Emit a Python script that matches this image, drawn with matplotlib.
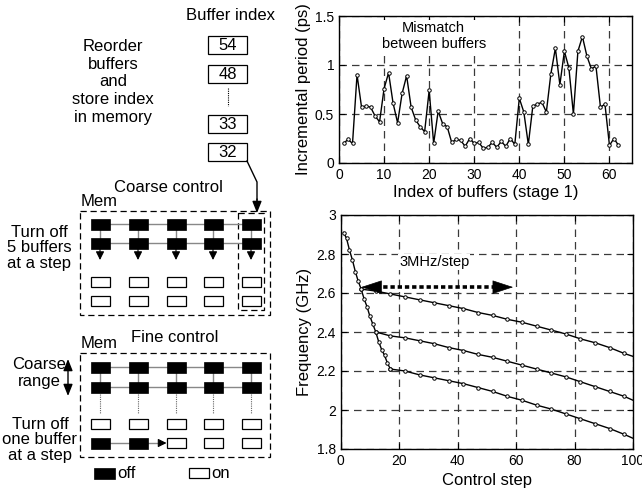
#buffer reorder / mismatch / frequency tuning figure
import numpy as np
import matplotlib
matplotlib.use('Agg')
from matplotlib import pyplot as plt
from matplotlib.patches import Rectangle

plt.rcParams['font.family'] = ['Liberation Sans', 'DejaVu Sans']

#data
buffer_index = list(range(1, 63))
incr_period = [0.20, 0.24, 0.20, 0.90, 0.57, 0.58, 0.57, 0.48, 0.42, 0.76,
               0.92, 0.61, 0.41, 0.71, 0.89, 0.57, 0.44, 0.37, 0.32, 0.74,
               0.20, 0.53, 0.40, 0.37, 0.21, 0.24, 0.23, 0.17, 0.25, 0.20,
               0.21, 0.15, 0.16, 0.21, 0.16, 0.22, 0.17, 0.25, 0.19, 0.66,
               0.52, 0.19, 0.58, 0.60, 0.62, 0.52, 0.91, 1.17, 0.80, 1.14,
               0.97, 0.50, 1.14, 1.29, 1.09, 0.96, 0.99, 0.57, 0.60, 0.18,
               0.25, 0.18]

steep_steps = list(range(1, 18))
steep_freq = [2.91, 2.88, 2.82, 2.77, 2.71, 2.66, 2.62, 2.57, 2.53, 2.48,
              2.44, 2.40, 2.35, 2.31, 2.28, 2.24, 2.21]

upper_steps = list(range(7, 98, 5)) + [100]
upper_freq = [2.62, 2.61, 2.595, 2.58, 2.565, 2.55, 2.535, 2.52, 2.50, 2.485,
              2.465, 2.45, 2.43, 2.41, 2.39, 2.365, 2.345, 2.32, 2.29, 2.275]
middle_steps = list(range(12, 98, 5)) + [100]
middle_freq = [2.40, 2.38, 2.37, 2.355, 2.34, 2.32, 2.305, 2.285, 2.27, 2.25,
               2.23, 2.21, 2.19, 2.17, 2.145, 2.12, 2.095, 2.07, 2.05]
lower_steps = list(range(17, 98, 5)) + [100]
lower_freq = [2.21, 2.20, 2.18, 2.165, 2.15, 2.135, 2.115, 2.095, 2.07, 2.05,
              2.025, 2.005, 1.98, 1.955, 1.93, 1.905, 1.875, 1.855]

buffer_order = ['54', '48', '33', '32']
W, H = 642, 492

fig = plt.figure(figsize=(W / 100, H / 100), dpi=100)

def px_axes(left, top, right, bottom):
    return fig.add_axes([left / W, 1 - bottom / H, (right - left) / W, (bottom - top) / H])

grid_kw = dict(color='#3a3a3a', linestyle=(0, (6, 4)), linewidth=0.9)
line_kw = dict(color='black', linewidth=1.0, marker='o', markersize=2.5,
               markerfacecolor='white', markeredgecolor='black', markeredgewidth=0.7)

def style_axes(ax):
    ax.tick_params(direction='in', top=True, right=True, labelsize=10, length=4)
    ax.grid(True, **grid_kw)
    for s in ax.spines.values():
        s.set_linewidth(1.0)

#top plot: mismatch between buffers
ax1 = px_axes(339, 16, 632, 163)
ax1.plot(buffer_index, incr_period, **line_kw)
ax1.set_xlim(0, 65)
ax1.set_ylim(0, 1.5)
ax1.set_xticks([0, 10, 20, 30, 40, 50, 60])
ax1.set_yticks([0, 0.5, 1, 1.5])
ax1.set_yticklabels(['0', '0.5', '1', '1.5'])
style_axes(ax1)
ax1.set_xlabel('Index of buffers (stage 1)', fontsize=12, labelpad=2)
ax1.set_ylabel('Incremental period (ps)', fontsize=12, labelpad=3)
ax1.text(21, 1.3, 'Mismatch\nbetween buffers', fontsize=10.5, ha='center', va='center',
         linespacing=1.2, bbox=dict(facecolor='white', edgecolor='none', pad=0.5))

#bottom plot: frequency vs control step
ax2 = px_axes(340.7, 215, 633, 449)
ax2.plot(steep_steps, steep_freq, **line_kw)
ax2.plot(upper_steps, upper_freq, markevery=slice(0, -1), **line_kw)
ax2.plot(middle_steps, middle_freq, markevery=slice(0, -1), **line_kw)
ax2.plot(lower_steps, lower_freq, markevery=slice(0, -1), **line_kw)
ax2.set_xlim(0, 100)
ax2.set_ylim(1.8, 3)
ax2.set_xticks([0, 20, 40, 60, 80, 100])
ax2.set_yticks([1.8, 2.0, 2.2, 2.4, 2.6, 2.8, 3.0])
ax2.set_yticklabels(['1.8', '2', '2.2', '2.4', '2.6', '2.8', '3'])
style_axes(ax2)
ax2.set_xlabel('Control step', fontsize=12, labelpad=4)
ax2.set_ylabel('Frequency (GHz)', fontsize=12, labelpad=3)
ax2.text(32, 2.76, '3MHz/step', fontsize=10.5, ha='center', va='center',
         bbox=dict(facecolor='white', edgecolor='none', pad=0.5))
ax2.plot([12, 54], [2.63, 2.63], color='black', linestyle=(0, (1.2, 0.8)), linewidth=2.6)
head = dict(arrowstyle='-|>,head_length=0.55,head_width=0.18', color='black', lw=0.5,
            mutation_scale=25, shrinkA=0, shrinkB=0)
ax2.annotate('', xy=(7, 2.63), xytext=(12.5, 2.63), arrowprops=head)
ax2.annotate('', xy=(59, 2.63), xytext=(53.5, 2.63), arrowprops=head)

#left: diagram drawn in pixel coordinates
axd = px_axes(0, 0, 290, 492)
axd.set_xlim(0, 290)
axd.set_ylim(492, 0)
axd.axis('off')

fs = 12
axd.text(230, 15, 'Buffer index', fontsize=fs, ha='center', va='center')
axd.text(113, 82, 'Reorder\nbuffers\nand\nstore index\nin memory', fontsize=fs,
         ha='center', va='center', linespacing=1.22)
box_tops = [36, 65, 115, 143]
for lab, top in zip(buffer_order, box_tops):
    axd.add_patch(Rectangle((208, top), 39, 18, facecolor='white', edgecolor='black', lw=0.9))
    axd.text(227.5, top + 9.5, lab, fontsize=fs, ha='center', va='center')
axd.plot([228, 228], [88, 106], color='black', lw=0.8, linestyle=(0, (1, 1)))
axd.plot([247, 257, 257], [161, 182, 200], color='black', lw=1.0)
axd.annotate('', xy=(257, 213), xytext=(257, 199),
             arrowprops=dict(arrowstyle='-|>,head_length=0.5,head_width=0.2', color='black',
                             lw=1.0, mutation_scale=14, shrinkA=0, shrinkB=0))

col_x = [100, 138, 176, 213, 251]
bw, bh = 19, 11
dash = (0, (5, 3))

def filled_row(yc, cols=col_x, link=True):
    if link:
        axd.plot([cols[0], cols[-1]], [yc, yc], color='#888888', lw=1.0, zorder=1)
    for cx in cols:
        axd.add_patch(Rectangle((cx - bw / 2, yc - bh / 2), bw, bh, facecolor='black',
                                edgecolor='black', lw=0.5, zorder=2))

def open_row(yc, cols=col_x):
    for cx in cols:
        axd.add_patch(Rectangle((cx - bw / 2, yc - 5), bw, 10, facecolor='white',
                                edgecolor='black', lw=0.9, zorder=2))

#coarse control
axd.text(168, 187, 'Coarse control', fontsize=fs, ha='center', va='center')
axd.text(81, 201, 'Mem', fontsize=fs, ha='left', va='center')
axd.add_patch(Rectangle((80, 211), 190, 104, fill=False, edgecolor='black', lw=0.9, linestyle=dash))
axd.add_patch(Rectangle((238, 213), 26, 97, fill=False, edgecolor='black', lw=0.9, linestyle=dash))
for cx in col_x:
    axd.plot([cx, cx], [224, 243], color='#888888', lw=1.0, zorder=1)
filled_row(224)
filled_row(243)
for cx in col_x:
    axd.annotate('', xy=(cx, 260), xytext=(cx, 249),
                 arrowprops=dict(arrowstyle='-|>,head_length=0.5,head_width=0.25', color='black',
                                 lw=0.8, mutation_scale=10, shrinkA=0, shrinkB=0))
open_row(282)
open_row(301)
axd.text(39, 248, 'Turn off\n5 buffers\nat a step', fontsize=fs, ha='center', va='center',
         linespacing=1.05)

#fine control
axd.text(175, 337, 'Fine control', fontsize=fs, ha='center', va='center')
axd.text(81, 344, 'Mem', fontsize=fs, ha='left', va='center')
axd.add_patch(Rectangle((80, 353), 190, 104, fill=False, edgecolor='black', lw=0.9, linestyle=dash))
for cx in col_x:
    axd.plot([cx, cx], [367, 387], color='#888888', lw=1.0, zorder=1)
    axd.plot([cx, cx], [394, 413], color='#666666', lw=0.8, linestyle=(0, (1, 1)))
filled_row(367)
filled_row(387)
open_row(424)
axd.plot([col_x[0], col_x[2] - bw / 2 - 4], [443, 443], color='#888888', lw=1.0, zorder=1)
axd.annotate('', xy=(col_x[2] - bw / 2, 443), xytext=(col_x[2] - bw / 2 - 6, 443),
             arrowprops=dict(arrowstyle='-|>,head_length=0.5,head_width=0.25', color='black',
                             lw=0.8, mutation_scale=10, shrinkA=0, shrinkB=0))
filled_row(443, cols=col_x[:2], link=False)
open_row(443, cols=col_x[2:])
axd.text(39, 373, 'Coarse\nrange', fontsize=fs, ha='center', va='center', linespacing=1.1)
axd.annotate('', xy=(68, 359), xytext=(68, 396),
             arrowprops=dict(arrowstyle='<|-|>,head_length=0.5,head_width=0.2', color='black',
                             lw=1.0, mutation_scale=14, shrinkA=0, shrinkB=0))
axd.text(40, 440, 'Turn off\none buffer\nat a step', fontsize=fs, ha='center', va='center',
         linespacing=1.05)

#legend of the diagram
axd.add_patch(Rectangle((94, 468), 21, 11, facecolor='black', edgecolor='black', lw=0.5))
axd.text(117, 473, 'off', fontsize=fs, ha='left', va='center')
axd.add_patch(Rectangle((189, 468), 20, 10, facecolor='white', edgecolor='black', lw=0.9))
axd.text(211, 474, 'on', fontsize=fs, ha='left', va='center')

fig.savefig('out.png', dpi=100)
